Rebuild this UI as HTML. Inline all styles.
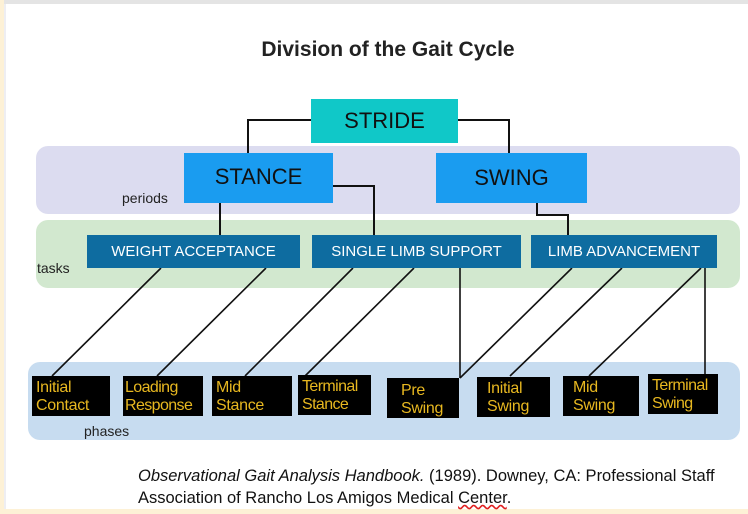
<!DOCTYPE html>
<html><head><style>
body{margin:0;width:748px;height:514px;overflow:hidden;background:#fff;font-family:"Liberation Sans",sans-serif;position:relative}
.a{position:absolute}
.b{position:absolute;display:flex;align-items:center;justify-content:center;box-sizing:border-box}
.ph{position:absolute;background:#000;color:#e8b820;font-size:16px;line-height:18px;padding:3px 4px;box-sizing:border-box;letter-spacing:-0.3px}
</style></head><body>
<div class="a" style="left:0;top:0;width:748px;height:4px;background:#e4e4e4"></div>
<div class="a" style="left:0;top:0;width:4px;height:514px;background:#fdf1d6"></div>
<div class="a" style="left:4px;top:4px;width:2px;height:510px;background:#eeeef2"></div>
<div class="a" style="left:0;top:509px;width:748px;height:5px;background:#fdf1d6"></div>
<div class="a" style="left:0;width:748px;top:38px;text-align:center;font-size:21px;font-weight:bold;color:#222;padding-left:28px;box-sizing:border-box">Division of the Gait Cycle</div>
<div class="a" style="left:36px;top:146px;width:704px;height:68px;background:#dcdcf0;border-radius:12px"></div>
<div class="a" style="left:36px;top:220px;width:704px;height:68px;background:#d2e8cf;border-radius:12px"></div>
<div class="a" style="left:28px;top:362px;width:712px;height:78px;background:#c7dcf0;border-radius:12px"></div>
<svg class="a" style="left:0;top:0" width="748" height="514" stroke="#111" stroke-width="2" fill="none">
<path d="M311 120H248V153M458 120H509V153M220 203V235M333 186H374V235M537 203V215H568V235"/>
<path d="M161 268L52 376M266 268L157 376M353 268L245 376M414 268L305 376M460 268V378M572 268L460 378M622 268L510 376M701 268L589 376M705 268V374" stroke-width="1.6"/>
</svg>
<div class="b" style="left:311px;top:99px;width:147px;height:44px;background:#10c8c8;font-size:22px;color:#111">STRIDE</div>
<div class="b" style="left:184px;top:153px;width:149px;height:50px;background:#1a9cf0;font-size:22px;color:#111;padding-bottom:2px">STANCE</div>
<div class="b" style="left:436px;top:153px;width:151px;height:50px;background:#1a9cf0;font-size:22px;color:#111">SWING</div>
<div class="a" style="left:122px;top:190px;font-size:14px;color:#222">periods</div>
<div class="b" style="left:87px;top:235px;width:213px;height:33px;background:#0e6ca0;font-size:15px;color:#fff">WEIGHT ACCEPTANCE</div>
<div class="b" style="left:312px;top:235px;width:209px;height:33px;background:#0e6ca0;font-size:15px;color:#fff">SINGLE LIMB SUPPORT</div>
<div class="b" style="left:531px;top:235px;width:186px;height:33px;background:#0e6ca0;font-size:15px;color:#fff">LIMB ADVANCEMENT</div>
<div class="a" style="left:37px;top:260px;font-size:14px;color:#222">tasks</div>
<div class="ph" style="left:32px;top:376px;width:78px;height:40px">Initial<br>Contact</div>
<div class="ph" style="left:123px;top:376px;width:80px;height:40px;padding-left:2px;letter-spacing:-0.6px">Loading<br>Response</div>
<div class="ph" style="left:212px;top:376px;width:80px;height:40px">Mid<br>Stance</div>
<div class="ph" style="left:298px;top:375px;width:73px;height:40px;letter-spacing:-0.6px">Terminal<br>Stance</div>
<div class="ph" style="left:387px;top:378px;width:72px;height:40px;padding-left:14px;padding-top:4px">Pre<br>Swing</div>
<div class="ph" style="left:477px;top:377px;width:73px;height:40px;padding-left:10px">Initial<br>Swing</div>
<div class="ph" style="left:563px;top:376px;width:76px;height:40px;padding-left:10px">Mid<br>Swing</div>
<div class="ph" style="left:648px;top:374px;width:70px;height:40px;letter-spacing:-0.6px">Terminal<br>Swing</div>
<div class="a" style="left:84px;top:423px;font-size:14px;color:#222">phases</div>
<div class="a" style="left:138px;top:465px;font-size:16.5px;line-height:22px;color:#111;white-space:nowrap"><i>Observational Gait Analysis Handbook.</i> (1989). Downey, CA: Professional Staff<br>Association of Rancho Los Amigos Medical <span style="text-decoration:underline wavy #e02020">Center</span>.</div>
</body></html>
